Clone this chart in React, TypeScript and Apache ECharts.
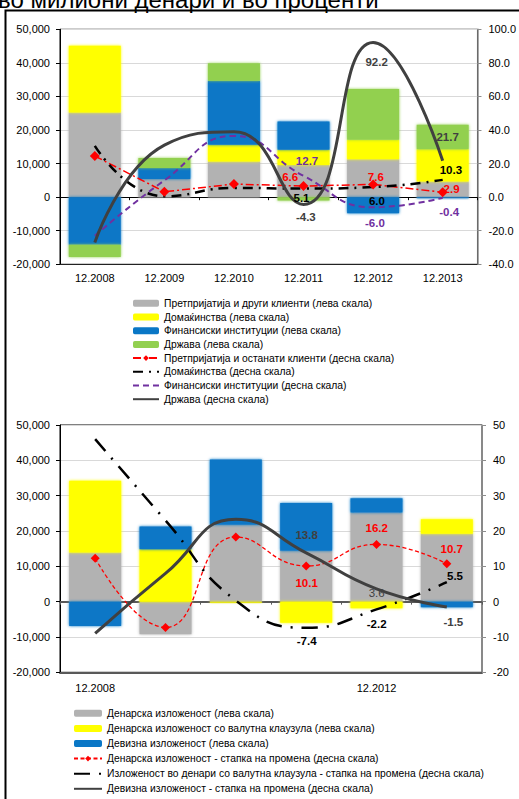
import React, { useEffect, useRef } from "react";
import * as echarts from "echarts";

// Periods (end of year)
const years = ["12.2008", "12.2009", "12.2010", "12.2011", "12.2012", "12.2013"];

// Upper panel – annual change by sector, million denars (left scale)
const enterprisesAmt = [25200, 5400, 10600, 9600, 11300, 4650];
const householdsAmt = [19900, 0, 5000, 4500, 5800, 9650];
const financialAmt = [-14200, 3300, 19100, 8400, -4800, -300];
const governmentAmt = [-3600, 3000, 5200, -1000, 15100, 7250];

// Upper panel – growth rates by sector, % (right scale)
const enterprisesRate = [24.5, 3.2, 7.8, 6.6, 7.6, 2.9];
const householdsRate = [30.5, 0.5, 5.5, 5.1, 6.0, 10.3];
const financialRate = [-23, 10, 36.5, 12.7, -6.0, -0.4];
const governmentRate = [-27, 31, 39, -4.3, 92.2, 21.7];

// Lower panel – annual change by currency, million denars (left scale)
const denarAmt = [13900, -9250, 21750, 14400, 25250, 19200];
const fxClauseAmt = [20300, 14850, -300, -5950, -1900, 4150];
const foreignAmt = [-6900, 6400, 18450, 13500, 4050, -1600];

// Lower panel – growth rates by currency, % (right scale)
const denarRate = [12.3, -7.3, 18.3, 10.1, 16.2, 10.7];
const fxClauseRate = [46, 23, 0.3, -7.4, -2.2, 5.5];
const foreignRate = [-9, 8, 23.3, 13.8, 3.6, -1.5];

const FONT = "'Liberation Sans', Arial, sans-serif";

const GREY = "#b2b2b2";
const YELLOW = "#ffff00";
const BLUE = "#0a77c6";
const GREEN = "#92d050";
const RED = "#ff0000";
const PURPLE = "#7030a0";
const DARK = "#404040";

type LabelSpec = { idx: number; dx: number; dy: number; color: string; bold?: boolean };

// attach value labels to selected points of a line
function withLabels(values: number[], specs: LabelSpec[]) {
  return values.map((v, i) => {
    const s = specs.find((p) => p.idx === i);
    if (!s) return v;
    return {
      value: v,
      label: {
        show: true,
        position: "inside",
        offset: [s.dx, s.dy],
        color: s.color,
        fontFamily: FONT,
        fontSize: 11.5,
        fontWeight: s.bold === false ? "normal" : "bold",
        formatter: (p: any) => Number(p.value).toFixed(1),
      },
    };
  });
}

function barSeries(name: string, data: number[], color: string, xi: number, yi: number, stack: string) {
  return {
    name,
    type: "bar",
    xAxisIndex: xi,
    yAxisIndex: yi,
    stack,
    barWidth: 52,
    data,
    itemStyle: { color, shadowBlur: 3, shadowColor: color },
    emphasis: { disabled: true },
  };
}

function lineSeries(
  name: string,
  data: any[],
  color: string,
  width: number,
  type: any,
  xi: number,
  yi: number,
  smooth: boolean,
  marker?: { symbol: string; size: number }
) {
  return {
    name,
    type: "line",
    xAxisIndex: xi,
    yAxisIndex: yi,
    data,
    smooth,
    z: 5,
    showSymbol: true,
    symbol: marker ? marker.symbol : "circle",
    symbolSize: marker ? marker.size : 1,
    itemStyle: { color: marker ? color : "rgba(0,0,0,0)" },
    lineStyle: { color, width, type },
    emphasis: { disabled: true },
  };
}

function labelAxis(gridIndex: number, interval: number, margin: number, line: any) {
  return {
    gridIndex,
    type: "category",
    data: years,
    position: "bottom",
    axisLine: { onZero: false, ...line },
    axisTick: { show: false },
    axisLabel: { interval, margin, fontSize: 11, fontFamily: FONT, color: "#000" },
  };
}

function zeroAxis(gridIndex: number, color: string, width: number) {
  return {
    gridIndex,
    type: "category",
    data: years,
    position: "bottom",
    axisLine: { show: true, onZero: true, lineStyle: { color, width } },
    axisTick: { show: true, length: 3, lineStyle: { color, width: 1 } },
    axisLabel: { show: false },
  };
}

function leftAxis(gridIndex: number) {
  return {
    gridIndex,
    type: "value",
    position: "left",
    min: -20000,
    max: 50000,
    interval: 10000,
    axisLine: { show: true, lineStyle: { color: "#000", width: 1 } },
    axisTick: { show: true, length: 4, lineStyle: { color: "#000" } },
    splitLine: { show: true, lineStyle: { color: "#d9d9d9", width: 1 } },
    axisLabel: {
      margin: 10,
      fontSize: 11,
      fontFamily: FONT,
      color: "#000",
      formatter: (v: number) => v.toLocaleString("en-US"),
    },
  };
}

function rightAxis(gridIndex: number, min: number, max: number, interval: number, digits: number) {
  return {
    gridIndex,
    type: "value",
    position: "right",
    min,
    max,
    interval,
    axisLine: { show: true, lineStyle: { color: "#8c8c8c", width: 1.5 } },
    axisTick: { show: true, length: 4, lineStyle: { color: "#8c8c8c" } },
    splitLine: { show: false },
    axisLabel: {
      margin: 11,
      fontSize: 11,
      fontFamily: FONT,
      color: "#000",
      formatter: (v: number) => v.toFixed(digits),
    },
  };
}

export default function App() {
  const ref = useRef<HTMLDivElement>(null);

  useEffect(() => {
    if (!ref.current) return;
    const chart = echarts.init(ref.current, undefined, { renderer: "svg" });

    const topNames = [
      "Претпријатија и други клиенти (лева скала)",
      "Домаќинства (лева скала)",
      "Финансиски институции (лева скала)",
      "Држава (лева скала)",
      "Претпријатија и останати клиенти (десна скала)",
      "Домаќинства (десна скала)",
      "Финансиски институции (десна скала)",
      "Држава (десна скала)",
    ];
    const bottomNames = [
      "Денарска изложеност (лева скала)",
      "Денарска изложеност со валутна клаузула (лева скала)",
      "Девизна изложеност (лева скала)",
      "Денарска изложеност - стапка на промена (десна скала)",
      "Изложеност во денари со валутна клаузула - стапка на промена (десна скала)",
      "Девизна изложеност - стапка на промена (десна скала)",
    ];

    const legendText = { fontSize: 10.3, fontFamily: FONT, color: "#000", lineHeight: 12 };

    const option: any = {
      animation: false,
      backgroundColor: "#fff",
      textStyle: { fontFamily: FONT },
      grid: [
        { left: 60, top: 29.3, width: 422, height: 235, show: true, borderColor: "#000", borderWidth: 1, backgroundColor: "transparent" },
        { left: 60, top: 425, width: 422, height: 247.3, show: true, borderColor: "#000", borderWidth: 1, backgroundColor: "transparent" },
      ],
      xAxis: [
        labelAxis(0, 0, 8, { show: true, lineStyle: { color: "#222", width: 1 } }),
        zeroAxis(0, "#000", 1),
        labelAxis(1, 3, 10, { show: true, lineStyle: { color: "#595959", width: 2 } }),
        zeroAxis(1, "#595959", 2),
      ],
      yAxis: [leftAxis(0), rightAxis(0, -40, 100, 20, 1), leftAxis(1), rightAxis(1, -20, 50, 10, 0)],
      legend: [
        {
          data: topNames,
          orient: "vertical",
          left: 132,
          top: 297.3,
          height: 120,
          padding: 0,
          itemWidth: 26,
          itemHeight: 7,
          itemGap: 1.7,
          selectedMode: false,
          textStyle: legendText,
        },
        {
          data: bottomNames,
          orient: "vertical",
          left: 73,
          top: 707.3,
          height: 92,
          padding: 0,
          itemWidth: 28,
          itemHeight: 7,
          itemGap: 3.1,
          selectedMode: false,
          textStyle: legendText,
        },
      ],
      graphic: [
        {
          type: "text",
          x: -2,
          y: -1,
          silent: true,
          style: {
            text: "во милиони денари и во проценти",
            font: `24px ${FONT}`,
            fill: "#000",
            verticalAlign: "middle",
          },
        },
        {
          type: "rect",
          silent: true,
          shape: { x: 5.5, y: 10.5, width: 700, height: 1000 },
          style: { fill: "none", stroke: "#000", lineWidth: 2 },
        },
      ],
      series: [
        barSeries(topNames[0], enterprisesAmt, GREY, 0, 0, "top"),
        barSeries(topNames[1], householdsAmt, YELLOW, 0, 0, "top"),
        barSeries(topNames[2], financialAmt, BLUE, 0, 0, "top"),
        barSeries(topNames[3], governmentAmt, GREEN, 0, 0, "top"),
        lineSeries(
          topNames[4],
          withLabels(enterprisesRate, [
            { idx: 3, dx: -13.4, dy: -9.5, color: RED },
            { idx: 4, dx: 2.7, dy: -7.8, color: RED },
            { idx: 5, dx: 8.9, dy: -3.1, color: RED },
          ]),
          RED, 1.5, [8, 3, 2, 3], 0, 1, false, { symbol: "diamond", size: 10 }
        ),
        lineSeries(
          topNames[5],
          withLabels(householdsRate, [
            { idx: 3, dx: -2, dy: 9, color: "#000" },
            { idx: 4, dx: 3.8, dy: 13.8, color: "#000" },
            { idx: 5, dx: 8.2, dy: -10, color: "#000" },
          ]),
          "#000", 2.5, [10, 6, 2, 6], 0, 1, true
        ),
        lineSeries(
          topNames[6],
          withLabels(financialRate, [
            { idx: 3, dx: 3.5, dy: -15.3, color: PURPLE },
            { idx: 4, dx: 1.8, dy: 16, color: PURPLE },
            { idx: 5, dx: 6.5, dy: 13.7, color: PURPLE },
          ]),
          PURPLE, 2, [6, 4], 0, 1, true
        ),
        lineSeries(
          topNames[7],
          withLabels(governmentRate, [
            { idx: 3, dx: 2.3, dy: 12.8, color: DARK },
            { idx: 4, dx: 3.5, dy: 19.7, color: DARK },
            { idx: 5, dx: 4.9, dy: -24.2, color: DARK },
          ]),
          DARK, 3, "solid", 0, 1, true
        ),

        barSeries(bottomNames[0], denarAmt, GREY, 2, 2, "bottom"),
        barSeries(bottomNames[1], fxClauseAmt, YELLOW, 2, 2, "bottom"),
        barSeries(bottomNames[2], foreignAmt, BLUE, 2, 2, "bottom"),
        lineSeries(
          bottomNames[3],
          withLabels(denarRate, [
            { idx: 3, dx: 0.5, dy: 17.2, color: RED },
            { idx: 4, dx: 0.2, dy: -16.3, color: RED },
            { idx: 5, dx: 4.9, dy: -14.7, color: RED },
          ]),
          RED, 1.3, [4, 2.5], 2, 3, true, { symbol: "diamond", size: 9 }
        ),
        lineSeries(
          bottomNames[4],
          withLabels(fxClauseRate, [
            { idx: 3, dx: 0.5, dy: 12.9, color: "#000" },
            { idx: 4, dx: 0.2, dy: 14.5, color: "#000" },
            { idx: 5, dx: 8.2, dy: -6.3, color: "#000" },
          ]),
          "#000", 2.5, [16, 9, 2, 9], 2, 3, true
        ),
        lineSeries(
          bottomNames[5],
          withLabels(foreignRate, [
            { idx: 3, dx: 0.5, dy: -18, color: DARK },
            { idx: 4, dx: 0.2, dy: 3.7, color: DARK, bold: false },
            { idx: 5, dx: 6.5, dy: 14.7, color: DARK },
          ]),
          DARK, 3, "solid", 2, 3, true
        ),
      ],
    };

    chart.setOption(option);
    return () => chart.dispose();
  }, []);

  return (
    <div
      ref={ref}
      style={{ position: "fixed", left: 0, top: 0, width: 519, height: 799 }}
    />
  );
}
